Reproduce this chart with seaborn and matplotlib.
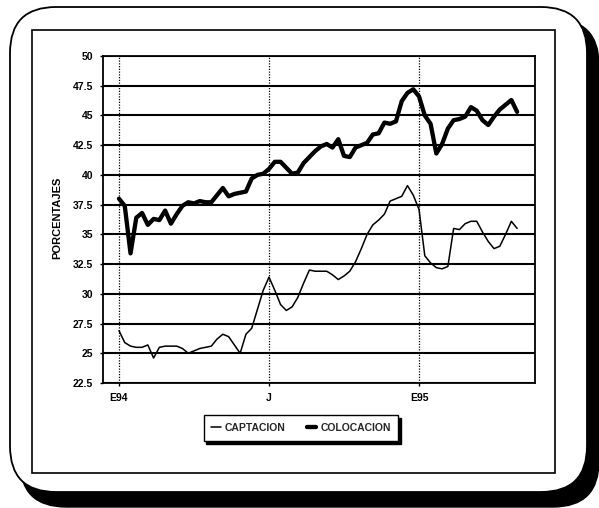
import pandas as pd
import matplotlib
matplotlib.use("Agg")
import matplotlib.pyplot as plt
import matplotlib.transforms as mtransforms
from matplotlib.patches import FancyBboxPatch, Rectangle
from matplotlib.lines import Line2D
import seaborn as sns

# datos semanales
semanas = list(range(70))
captacion = [26.9, 25.9, 25.6, 25.5, 25.5, 25.7, 24.6, 25.5, 25.6, 25.6,
             25.6, 25.4, 25.0, 25.2, 25.4, 25.5, 25.6, 26.2, 26.6, 26.4,
             25.7, 25.0, 26.6, 27.1, 28.7, 30.3, 31.4, 30.3, 29.1, 28.6,
             28.9, 29.7, 30.9, 32.0, 31.9, 31.9, 31.9, 31.6, 31.2, 31.5,
             31.9, 32.7, 33.8, 35.0, 35.8, 36.2, 36.7, 37.8, 38.0, 38.2,
             39.1, 38.3, 37.1, 33.2, 32.6, 32.2, 32.1, 32.3, 35.5, 35.4,
             35.9, 36.1, 36.1, 35.2, 34.4, 33.8, 34.0, 35.0, 36.1, 35.5]
colocacion = [38.0, 37.4, 33.4, 36.4, 36.8, 35.8, 36.3, 36.2, 37.0, 35.9,
              36.7, 37.4, 37.7, 37.6, 37.8, 37.7, 37.7, 38.3, 38.9, 38.2,
              38.4, 38.5, 38.6, 39.7, 40.0, 40.1, 40.5, 41.1, 41.1, 40.6,
              40.1, 40.2, 41.0, 41.5, 42.0, 42.4, 42.6, 42.3, 43.0, 41.6,
              41.5, 42.3, 42.5, 42.7, 43.4, 43.5, 44.4, 44.3, 44.5, 46.2,
              46.9, 47.2, 46.6, 45.0, 44.3, 41.8, 42.6, 43.9, 44.6, 44.7,
              44.9, 45.7, 45.4, 44.6, 44.2, 44.9, 45.5, 45.9, 46.3, 45.3]
tick_pos = [0, 26, 52]
tick_labels = ["E94", "J", "E95"]
y_ticks = [22.5, 25, 27.5, 30, 32.5, 35, 37.5, 40, 42.5, 45, 47.5, 50]

sns.set_style("white")
plt.rcParams["font.family"] = ["Liberation Sans", "DejaVu Sans"]
plt.rcParams["font.weight"] = "bold"

fig = plt.figure(figsize=(5.99, 5.08), dpi=100)

# marco redondeado con sombra
px = mtransforms.IdentityTransform()
fig.add_artist(FancyBboxPatch((20, 1), 579, 488, boxstyle="round,pad=0,rounding_size=46",
                              facecolor="black", edgecolor="black", transform=px, zorder=-3))
fig.add_artist(FancyBboxPatch((10, 16), 577, 485, boxstyle="round,pad=0,rounding_size=46",
                              facecolor="white", edgecolor="black", linewidth=1.3,
                              transform=px, zorder=-2))
fig.add_artist(Rectangle((32, 35), 523, 443, facecolor="none", edgecolor="black",
                         linewidth=1.2, transform=px, zorder=-1))

ax = fig.add_axes([103 / 599, 1 - 383 / 508, 432 / 599, 327 / 508])

sns.lineplot(x=semanas, y=captacion, color="black", linewidth=1.1, ax=ax)
sns.lineplot(x=semanas, y=colocacion, color="black", linewidth=3.1, ax=ax)

ax.set_xlim(-2.77, 72.1)
ax.set_ylim(22.5, 50)
ax.set_yticks(y_ticks)
ax.set_yticklabels([f"{v:g}" for v in y_ticks])
ax.set_xticks(tick_pos)
ax.set_xticklabels(tick_labels)
ax.set_axisbelow(True)
ax.yaxis.grid(True, color="black", linewidth=1.5)
ax.xaxis.grid(True, color="black", linewidth=0.9, linestyle=(0, (1, 1.2)))
for s in ax.spines.values():
    s.set_visible(True)
    s.set_color("black")
    s.set_linewidth(1.3)
ax.tick_params(axis="both", bottom=True, left=True, direction="out", length=2.5,
               width=1, color="black", labelsize=7.5, labelcolor="black")
ax.tick_params(axis="y", pad=4.5)
ax.tick_params(axis="x", pad=5)
ax.set_xlabel("")
ax.set_ylabel("PORCENTAJES", fontsize=8, fontweight="bold", color="black")
ax.yaxis.set_label_coords(-0.095, 0.506)

handles = [Line2D([], [], color="black", linewidth=1.1),
           Line2D([], [], color="black", linewidth=3.1)]
leg = fig.legend(handles, ["CAPTACION", "COLOCACION"], loc="center",
                 bbox_to_anchor=(301 / 599, 1 - 428 / 508), ncol=2, frameon=True,
                 fancybox=False, shadow={"color": "black", "alpha": 1},
                 framealpha=1, edgecolor="black", borderpad=0.75, handlelength=0.9,
                 handletextpad=0.4, columnspacing=2.0,
                 prop={"weight": "bold", "size": 7.5})
leg.get_frame().set_linewidth(1.0)

fig.savefig("out.png", dpi=100)
